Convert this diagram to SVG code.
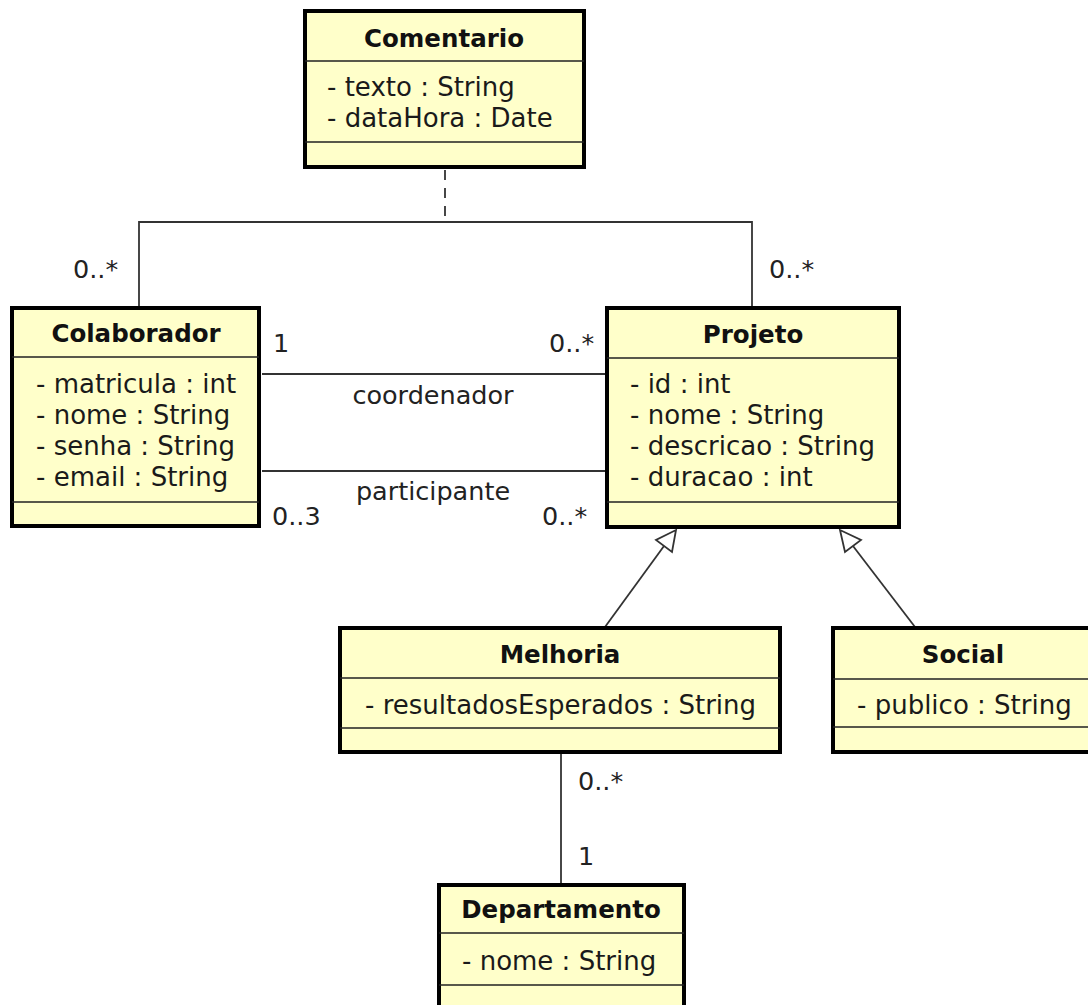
<svg xmlns="http://www.w3.org/2000/svg" width="1088" height="1005" viewBox="0 0 1088 1005">
<defs>
<style>
.box{fill:#FFFFCA;stroke:#000;stroke-width:4}
.sep{stroke:#222;stroke-width:1.5}
.title{font-family:"DejaVu Sans",sans-serif;font-weight:bold;font-size:24.5px;fill:#111;text-anchor:middle}
.attr{font-family:"DejaVu Sans",sans-serif;font-size:26px;fill:#1a1a1a}
.lbl{font-family:"DejaVu Sans",sans-serif;font-size:25.5px;fill:#222}
.mid{text-anchor:middle}
.ln{fill:none;stroke:#333;stroke-width:1.8}
.dash{fill:none;stroke:#333;stroke-width:1.8;stroke-dasharray:10,8}
.tri{fill:#fff;stroke:#333;stroke-width:1.8}
</style>
</defs>
<rect width="1088" height="1005" fill="#fff"/>
<g id="connectors">
<path class="dash" d="M445 170 V222"/>
<path class="ln" d="M139 306 V222 H752 V306"/>
<path class="ln" d="M262 374 H606"/>
<path class="ln" d="M262 471 H606"/>
<path class="ln" d="M605 627 L664 546"/>
<polygon class="tri" points="676,530 672,552 656,540"/>
<path class="ln" d="M915 627 L853 546"/>
<polygon class="tri" points="840,530 845,552 861,540"/>
<path class="ln" d="M561 753 V884"/>
<text class="lbl" x="73" y="278">0..*</text>
<text class="lbl" x="769" y="278">0..*</text>
<text class="lbl" x="273" y="352">1</text>
<text class="lbl" x="549" y="352">0..*</text>
<text class="lbl mid" x="433" y="404">coordenador</text>
<text class="lbl mid" x="433" y="500">participante</text>
<text class="lbl" x="272" y="525">0..3</text>
<text class="lbl" x="542" y="525">0..*</text>
<text class="lbl" x="578" y="790">0..*</text>
<text class="lbl" x="578" y="865">1</text>
</g>
<g id="Comentario">
<rect class="box" x="305" y="11" width="279" height="156"/>
<path class="sep" d="M305 61 H584 M305 142 H584"/>
<text class="title" x="444" y="47">Comentario</text>
<text class="attr" x="327" y="96">- texto : String</text>
<text class="attr" x="327" y="127">- dataHora : Date</text>
</g>
<g id="Colaborador">
<rect class="box" x="12" y="308" width="247" height="218"/>
<path class="sep" d="M12 357 H259 M12 502 H259"/>
<text class="title" x="136" y="342">Colaborador</text>
<text class="attr" x="36" y="393">- matricula : int</text>
<text class="attr" x="36" y="424">- nome : String</text>
<text class="attr" x="36" y="455">- senha : String</text>
<text class="attr" x="36" y="486">- email : String</text>
</g>
<g id="Projeto">
<rect class="box" x="607" y="308" width="292" height="219"/>
<path class="sep" d="M607 358 H899 M607 502 H899"/>
<text class="title" x="753" y="343">Projeto</text>
<text class="attr" x="630" y="393">- id : int</text>
<text class="attr" x="630" y="424">- nome : String</text>
<text class="attr" x="630" y="455">- descricao : String</text>
<text class="attr" x="630" y="486">- duracao : int</text>
</g>
<g id="Melhoria">
<rect class="box" x="340" y="628" width="440" height="124"/>
<path class="sep" d="M340 678 H780 M340 728 H780"/>
<text class="title" x="560" y="663">Melhoria</text>
<text class="attr" x="365" y="714">- resultadosEsperados : String</text>
</g>
<g id="Social">
<rect class="box" x="833" y="628" width="262" height="124"/>
<path class="sep" d="M833 679 H1095 M833 727 H1095"/>
<text class="title" x="963" y="663">Social</text>
<text class="attr" x="857" y="714">- publico : String</text>
</g>
<g id="Departamento">
<rect class="box" x="439" y="885" width="245" height="140"/>
<path class="sep" d="M439 933 H684 M439 985 H684"/>
<text class="title" x="561" y="918">Departamento</text>
<text class="attr" x="462" y="970">- nome : String</text>
</g>
</svg>
